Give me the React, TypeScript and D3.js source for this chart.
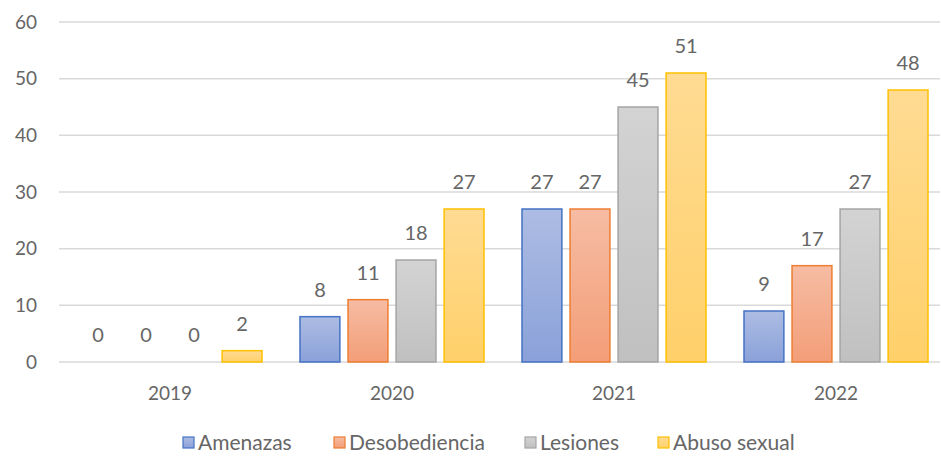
import React from "react";
import * as d3 from "d3";

const years = ["2019", "2020", "2021", "2022"];
const seriesNames = ["Amenazas", "Desobediencia", "Lesiones", "Abuso sexual"];
const amenazas = [0, 8, 27, 9];
const desobediencia = [0, 11, 27, 17];
const lesiones = [0, 18, 45, 27];
const abusoSexual = [2, 27, 51, 48];
const yTicks = [0, 10, 20, 30, 40, 50, 60];

const seriesValues = [amenazas, desobediencia, lesiones, abusoSexual];
const strokes = ["#4472c4", "#ed7d31", "#a5a5a5", "#ffc000"];
const topFills = ["#adbce3", "#f6bca3", "#d3d3d3", "#ffdb93"];
const botFills = ["#8aa1d9", "#f39e78", "#c0c0c0", "#ffd06a"];

const W = 941, H = 456;
const left = 59, right = 947, top = 22, bottom = 362;
const font = "Lato, 'Open Sans', sans-serif";
const textColor = "#666666";

export default function App() {
  const x0 = d3.scaleBand().domain(years).range([left, right]).paddingInner(0).paddingOuter(0);
  const y = d3.scaleLinear().domain([0, 60]).range([bottom, top]);
  const groupW = 184;
  const x1 = d3.scaleBand().domain(seriesNames).range([0, groupW]).paddingInner(0.17).paddingOuter(0);
  const legendX = [183, 334, 525, 658];
  return (
    <svg width={W} height={H} style={{ position: "absolute", left: 0, top: 0, background: "#fff" }}>
      <defs>
        {seriesNames.map((s, i) => (
          <linearGradient key={s} id={`g${i}`} x1="0" y1="0" x2="0" y2="1">
            <stop offset="0" stopColor={topFills[i]} />
            <stop offset="1" stopColor={botFills[i]} />
          </linearGradient>
        ))}
      </defs>
      {yTicks.map((t) => (
        <g key={t}>
          <line x1={left} x2={940} y1={y(t)} y2={y(t)} stroke="#d9d9d9" strokeWidth={1.5} />
          <text x={37} y={y(t)} dy="0.35em" textAnchor="end" fontFamily={font} fontSize={19} fill={textColor}>{t}</text>
        </g>
      ))}
      {years.map((yr, gi) => {
        const gx = (x0(yr) as number) + (x0.bandwidth() - groupW) / 2;
        return (
          <g key={yr}>
            {seriesNames.map((s, si) => {
              const v = seriesValues[si][gi];
              const bx = gx + (x1(s) as number);
              const bw = x1.bandwidth();
              return (
                <g key={s}>
                  {v > 0 && (
                    <rect x={bx} y={y(v)} width={bw} height={y(0) - y(v)} fill={`url(#g${si})`} stroke={strokes[si]} strokeWidth={1.5} />
                  )}
                  <text x={bx + bw / 2} y={y(v) - 20} textAnchor="middle" fontFamily={font} fontSize={20} fill={textColor}>{v}</text>
                </g>
              );
            })}
            <text x={(x0(yr) as number) + x0.bandwidth() / 2} y={400} textAnchor="middle" fontFamily={font} fontSize={19} fill={textColor}>{yr}</text>
          </g>
        );
      })}
      {seriesNames.map((s, i) => (
        <g key={s}>
          <rect x={legendX[i]} y={437} width={11} height={11} fill={`url(#g${i})`} stroke={strokes[i]} strokeWidth={1.2} />
          <text x={legendX[i] + 15} y={450} fontFamily={font} fontSize={21} fill={textColor}>{s}</text>
        </g>
      ))}
    </svg>
  );
}
